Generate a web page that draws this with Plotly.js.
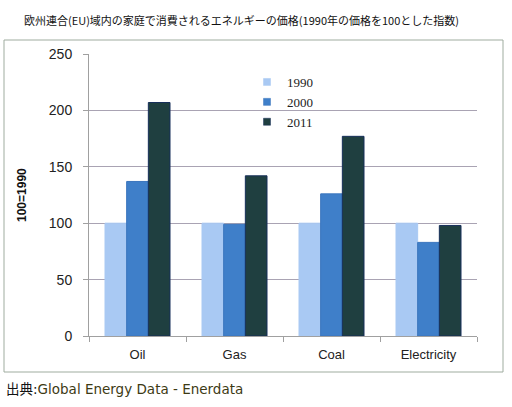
<!DOCTYPE html>
<html><head><meta charset="utf-8">
<script src="https://cdn.plot.ly/plotly-3.0.1.min.js"></script>
<style>body{margin:0;padding:0;background:#fff}</style>
</head><body>
<div id="chart" style="width:512px;height:407px"></div>
<script>
const categories = ["Oil", "Gas", "Coal", "Electricity"];
const seriesNames = ["1990", "2000", "2011"];
const values1990 = [100, 100, 100, 100];
const values2000 = [137, 99, 126, 83];
const values2011 = [207, 142, 177, 98];
const seriesColors = ["#a9c9f3", "#3f7fc9", "#1f3f40"];
const seriesLines = ["#a9c9f3", "#3a75bd", "#172f5a"];
const titleText = "欧州連合(EU)域内の家庭で消費されるエネルギーの価格(1990年の価格を100とした指数)";
const yTitle = "100=1990";
const sourceText = "出典:<span style='color:#3d3a14'>Global Energy Data - Enerdata</span>";

const allValues = [values1990, values2000, values2011];
const traces = [];
allValues.forEach((vals, i) => {
  traces.push({
    type: "bar", x: categories, y: vals, name: seriesNames[i],
    marker: {color: seriesColors[i], line: {color: seriesLines[i], width: 1}},
    showlegend: false, hoverinfo: "skip"
  });
});
allValues.forEach((vals, i) => {
  traces.push({
    type: "scatter", mode: "markers", x: [null], y: [null], name: seriesNames[i],
    marker: {symbol: "square", size: 7, color: seriesColors[i], line: {color: seriesLines[i], width: 0.5}},
    showlegend: true
  });
});

const W = 388, H = 282, L = 89, T = 54;
const px = x => (x - L) / W;
const py = y => (T + H - y) / H;

const layout = {
  width: 512, height: 407,
  margin: {l: L, r: 512 - L - W, t: T, b: 407 - T - H, pad: 0},
  paper_bgcolor: "#ffffff", plot_bgcolor: "#ffffff",
  barmode: "group", bargap: 0.33, bargroupgap: 0,
  font: {family: "Liberation Sans, Arial, sans-serif", size: 13, color: "#222"},
  title: {
    text: titleText, x: 24 / 512, xanchor: "left", xref: "container",
    y: 1 - 21 / 407, yanchor: "middle", yref: "container",
    font: {family: "Noto Sans CJK JP, sans-serif", size: 11, color: "#111"}
  },
  showlegend: true,
  legend: {
    x: px(247), y: py(67), xanchor: "left", yanchor: "top",
    bgcolor: "rgba(0,0,0,0)", tracegroupgap: 0, itemwidth: 30,
    font: {family: "Liberation Serif, serif", size: 13, color: "#222"}
  },
  xaxis: {
    type: "category", range: [-0.5, 3.5], showgrid: false,
    showline: true, linecolor: "#a0a0a0", linewidth: 1,
    ticks: "outside", tickson: "boundaries", ticklen: 5, tickcolor: "#a0a0a0",
    ticklabelstandoff: 6,
    tickfont: {family: "Liberation Sans, sans-serif", size: 13, color: "#222"},
    fixedrange: true
  },
  yaxis: {
    range: [0, 250], dtick: 50, tick0: 0,
    showgrid: true, gridcolor: "#a9a3b3", gridwidth: 1,
    zeroline: false, showline: true, linecolor: "#a0a0a0", linewidth: 1,
    ticks: "outside", ticklen: 5, tickcolor: "#a0a0a0",
    ticklabelstandoff: 8,
    tickfont: {family: "Liberation Sans, sans-serif", size: 14, color: "#222"},
    fixedrange: true
  },
  shapes: [{
    type: "rect", xref: "paper", yref: "paper",
    x0: px(4), x1: px(503), y0: py(372), y1: py(40),
    line: {color: "#9fac9f", width: 1}, fillcolor: "rgba(0,0,0,0)", layer: "below"
  }],
  annotations: [
    {text: yTitle, xref: "paper", yref: "paper", x: px(22), y: 0.5, textangle: -90,
     showarrow: false, xanchor: "center", yanchor: "middle",
     font: {family: "Liberation Sans, sans-serif", size: 12, color: "#111", weight: "bold"}},
    {text: sourceText, xref: "paper", yref: "paper", x: px(4), y: py(389),
     showarrow: false, xanchor: "left", yanchor: "middle",
     font: {family: "DejaVu Sans, Noto Sans CJK JP, sans-serif", size: 13.5, color: "#111"}}
  ]
};

Plotly.newPlot("chart", traces, layout, {displayModeBar: false, staticPlot: true});
</script>
</body></html>
